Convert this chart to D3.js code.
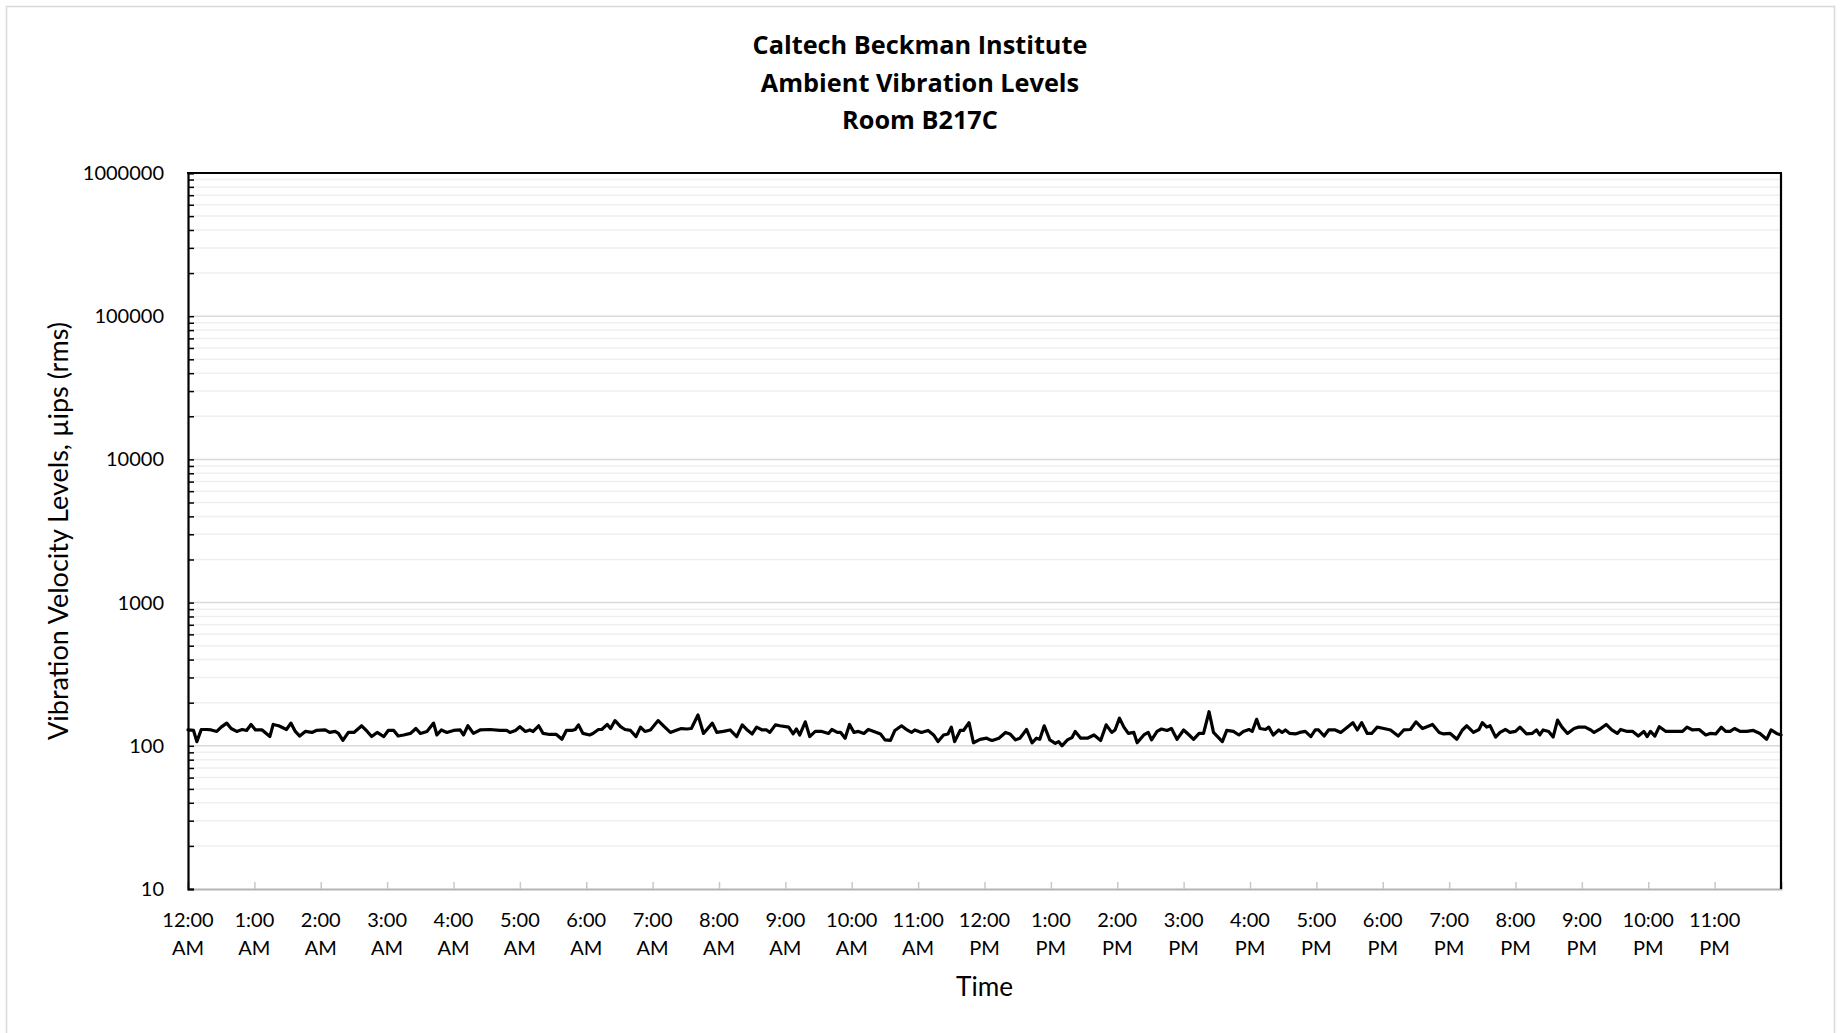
<!DOCTYPE html>
<html>
<head>
<meta charset="utf-8">
<script src="https://cdn.jsdelivr.net/npm/d3@7"></script>
<style>
  html, body { margin: 0; padding: 0; background: #ffffff; }
  svg { display: block; }
  text { font-family: Lato, "Open Sans", "Liberation Sans", sans-serif; fill: #000; }
</style>
</head>
<body>
<div id="chart"></div>
<script>
// ---- Data (time of day in minutes after midnight, velocity in µips rms) ----
const minutes = [
  0,5,8,12,17,21,26,30,35,39,44,49,53,57,61,67,74,77,82,89,93,97,101,106,112,116,124,128,133,136,140,145,150,157,162,166,171,177,181,186,190,195,201,206,210,216,222,225,229,234,240,246,249,253,258,264,273,282,288,291,296,300,305,309,312,317,321,327,333,338,342,347,350,353,357,363,
  366,371,374,379,382,386,391,395,400,405,409,413,418,425,431,436,442,446,451,455,461,466,474,478,484,490,496,501,505,510,514,519,523,526,531,535,543,547,550,553,558,562,567,573,579,582,587,590,594,598,602,606,611,615,620,626,630,635,639,645,650,654,657,663,669,674,678,683,687,690,693,698,701,706,710,716,722,725,
  727,733,739,743,748,752,758,763,767,770,774,779,784,787,790,795,799,802,807,813,819,825,830,835,838,842,846,850,855,858,864,868,871,876,880,885,889,894,900,905,909,914,918,923,927,935,939,945,950,954,959,962,966,969,974,977,981,986,989,992,996,1001,1005,1010,1015,1019,1022,1027,1031,1037,1042,1048,1053,1057,1061,1066,1070,1075,1081,1087,
  1094,1099,1105,1110,1116,1120,1125,1131,1135,1141,1147,1152,1156,1162,1167,1170,1174,1177,1182,1186,1191,1195,1200,1204,1210,1215,1219,1222,1225,1230,1234,1238,1242,1247,1253,1257,1263,1268,1271,1277,1282,1287,1292,1295,1301,1306,1311,1316,1319,1322,1326,1330,1336,1343,1351,1355,1360,1366,1372,1376,1381,1386,1390,1394,1398,1403,1409,1415,1421,1427,1431,1436,1440
];
const values = [
  129,128,107,130,130,129,126,135,144,132,126,130,128,141,129,129,116,141,138,130,144,126,117,126,124,128,129,124,126,122,109,124,124,138,126,116,124,116,128,128,117,119,122,132,122,126,144,119,129,124,128,129,119,138,122,129,130,128,128,124,128,136,126,129,126,138,122,120,120,111,128,128,130,140,122,119,
  122,130,130,141,132,150,136,130,128,116,135,126,129,150,135,124,129,132,131,132,164,122,144,124,126,129,116,140,130,121,135,129,129,124,140,138,135,121,131,119,147,116,126,126,122,130,124,124,113,141,124,126,122,130,126,121,110,109,128,138,129,124,129,124,128,119,107,119,121,135,107,128,128,145,105,111,113,110,
  109,113,124,121,110,113,130,105,113,111,138,110,104,107,100,110,114,126,113,113,119,109,140,124,129,156,135,122,124,105,119,124,110,126,131,128,132,111,129,119,111,122,122,173,124,107,128,126,119,126,130,126,153,132,130,135,119,129,124,129,122,121,124,126,116,129,129,117,129,129,124,135,145,129,145,122,122,135,132,129,
  117,129,130,147,132,136,141,124,121,122,111,129,138,124,130,145,135,138,115,124,130,124,126,135,121,122,129,119,129,126,115,151,135,122,132,135,135,129,124,132,141,129,122,130,126,126,117,126,116,126,117,136,126,126,126,135,129,130,119,122,121,135,126,126,132,126,126,128,122,111,129,122,119
];
const yTickValues = [10, 100, 1000, 10000, 100000, 1000000];
const xTickMinutes = d3.range(0, 1440, 60);
const xTickTime = ["12:00","1:00","2:00","3:00","4:00","5:00","6:00","7:00","8:00","9:00","10:00","11:00",
                   "12:00","1:00","2:00","3:00","4:00","5:00","6:00","7:00","8:00","9:00","10:00","11:00"];
const xTickPeriod = ["AM","AM","AM","AM","AM","AM","AM","AM","AM","AM","AM","AM",
                     "PM","PM","PM","PM","PM","PM","PM","PM","PM","PM","PM","PM"];
const titleLines = ["Caltech Beckman Institute", "Ambient Vibration Levels", "Room B217C"];
const xTitle = "Time";
const yTitle = "Vibration Velocity Levels, \u00b5ips (rms)";

// ---- Layout ----
const W = 1841, H = 1033;
const plot = { left: 188, right: 1781, top: 173, bottom: 889 };

const svg = d3.select("#chart").append("svg").attr("width", W).attr("height", H);

// fit a text element's font size so that it spans a target width
function fitWidth(sel, target) {
  const base = parseFloat(sel.style("font-size"));
  const w = sel.node().getComputedTextLength();
  const size = base * target / w;
  sel.style("font-size", size + "px");
  return size;
}

// chart area border
svg.append("rect")
  .attr("x", 6.5).attr("y", 6.5).attr("width", 1828).attr("height", 1040)
  .attr("fill", "#fff").attr("stroke", "#d9d9d9").attr("stroke-width", 1.5);

const x = d3.scaleLinear().domain([0, 1440]).range([plot.left, plot.right]);
const y = d3.scaleLog().domain([10, 1000000]).range([plot.bottom, plot.top]);

// minor and major gridlines
const allTicks = [];
for (let d = 10; d < 1000000; d *= 10) for (let m = 1; m <= 9; m++) allTicks.push(d * m);
allTicks.push(1000000);
const minorTicks = allTicks.filter(v => !yTickValues.includes(v));

svg.append("g").selectAll("line").data(minorTicks).join("line")
  .attr("x1", plot.left).attr("x2", plot.right)
  .attr("y1", d => y(d)).attr("y2", d => y(d))
  .attr("stroke", "#efefef").attr("stroke-width", 1.5);
svg.append("g").selectAll("line").data(yTickValues.filter(v => v > 10 && v < 1000000)).join("line")
  .attr("x1", plot.left).attr("x2", plot.right)
  .attr("y1", d => y(d)).attr("y2", d => y(d))
  .attr("stroke", "#d9d9d9").attr("stroke-width", 1.5);

// x axis (bottom, gray, ticks pointing up)
const xAxis = d3.axisBottom(x).tickValues(xTickMinutes).tickSize(-7).tickFormat("");
const gx = svg.append("g").attr("transform", `translate(0,${plot.bottom})`).call(xAxis);
gx.select(".domain").attr("stroke", "#b4b4b4").attr("stroke-width", 2);
gx.selectAll(".tick line").attr("stroke", "#c8c8c8").attr("stroke-width", 1.5);

// x tick labels (two lines)
const xl = svg.append("g").selectAll("text").data(xTickMinutes).join("text")
  .attr("x", d => x(d)).attr("text-anchor", "middle")
  .style("font-size", "20px");
xl.append("tspan").attr("x", d => x(d)).attr("y", 927).text((d, i) => xTickTime[i]);
xl.append("tspan").attr("x", d => x(d)).attr("y", 955).text((d, i) => xTickPeriod[i]);

// y axis (left, black, minor ticks inside)
const yAxis = d3.axisLeft(y).tickValues(allTicks).tickSize(-6).tickFormat("");
const gy = svg.append("g").attr("transform", `translate(${plot.left},0)`).call(yAxis);
gy.select(".domain").attr("stroke", "#000").attr("stroke-width", 2.2);
gy.selectAll(".tick line").attr("stroke", "#000").attr("stroke-width", 1.5);

svg.append("g").selectAll("text").data(yTickValues).join("text")
  .attr("x", 164).attr("y", d => y(d) + 7)
  .attr("text-anchor", "end").style("font-size", "20px")
  .text(d => d3.format("d")(d));

// top and right frame
svg.append("line").attr("x1", plot.left - 1).attr("x2", plot.right + 1)
  .attr("y1", y(1000000)).attr("y2", y(1000000)).attr("stroke", "#000").attr("stroke-width", 2.2);
svg.append("line").attr("x1", x(1440)).attr("x2", x(1440))
  .attr("y1", plot.top).attr("y2", plot.bottom).attr("stroke", "#000").attr("stroke-width", 2.2);

// data line
const series = minutes.map((m, i) => [m, values[i]]);
svg.append("path").datum(series)
  .attr("fill", "none").attr("stroke", "#000").attr("stroke-width", 3.2)
  .attr("stroke-linejoin", "round").attr("stroke-linecap", "round")
  .attr("d", d3.line().x(d => x(d[0])).y(d => y(d[1])));

// titles
const titles = svg.append("g").selectAll("text").data(titleLines).join("text")
  .attr("x", 920).attr("y", (d, i) => 54 + i * 37.5)
  .attr("text-anchor", "middle")
  .style("font-family", "'Open Sans', Lato, sans-serif")
  .style("font-size", "23px").style("font-weight", "bold")
  .text(d => d);
const tSize = fitWidth(d3.select(titles.nodes()[0]), 335);
titles.style("font-size", tSize + "px");

const xt = svg.append("text").attr("x", (plot.left + plot.right) / 2).attr("y", 996)
  .attr("text-anchor", "middle").style("font-size", "24px").text(xTitle);
fitWidth(xt, 57);

const yt = svg.append("text").attr("transform", `translate(68,${(plot.top + plot.bottom) / 2}) rotate(-90)`)
  .attr("text-anchor", "middle").style("font-size", "24px").text(yTitle);
fitWidth(yt, 418);
</script>
</body>
</html>
